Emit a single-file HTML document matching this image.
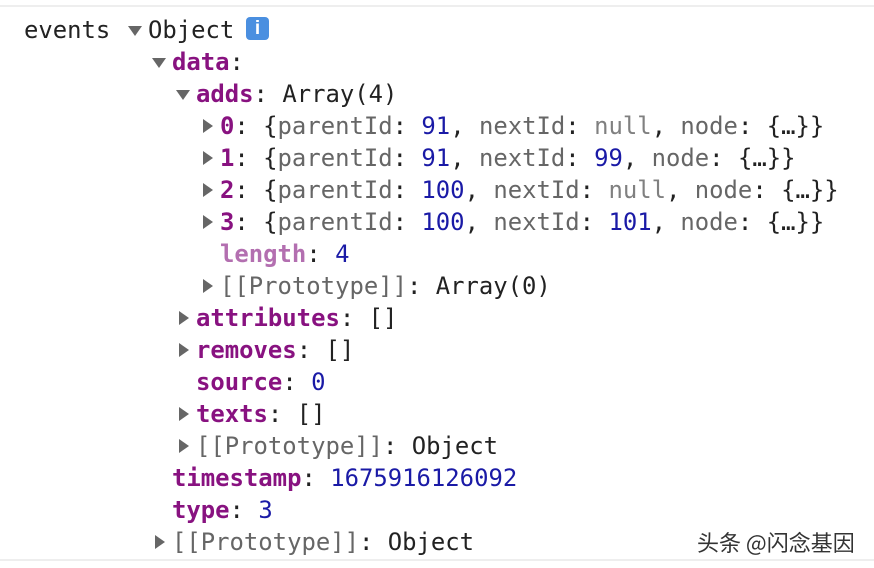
<!DOCTYPE html>
<html><head><meta charset="utf-8"><style>
body{margin:0;width:874px;height:568px;background:#fff;overflow:hidden;position:relative;font-family:"DejaVu Sans Mono","Liberation Mono",monospace;font-size:23.9px;color:#222;}
.r{position:absolute;white-space:pre;line-height:32px;height:32px;}
.k{color:#881280;font-weight:bold}
.kl{color:#b36fb0;font-weight:bold}
.n{color:#1a1aa6}
.g{color:#808080}
.p{color:#666}
.a{position:absolute;width:0;height:0}
.down{border-left:7px solid transparent;border-right:7px solid transparent;border-top:10px solid #666}
.right{border-top:7px solid transparent;border-bottom:7px solid transparent;border-left:10px solid #666}
.line{position:absolute;left:0;width:874px;height:2px;background:#eee}
</style></head><body>
<div class="line" style="top:5px"></div>
<div class="line" style="top:559px"></div>

<div class="r" style="left:24px;top:14px">events</div>
<div class="a down" style="left:128px;top:26px"></div>
<div class="r" style="left:148px;top:14px">Object</div>
<div style="position:absolute;left:246px;top:17px;width:23px;height:23px;background:#4a8fe0;border-radius:4px;color:#fff;font:bold 19px 'Liberation Sans',sans-serif;text-align:center;line-height:23px">i</div>

<div class="a down" style="left:152px;top:58px"></div>
<div class="r" style="left:172px;top:46px"><span class="k">data</span>:</div>

<div class="a down" style="left:176px;top:90px"></div>
<div class="r" style="left:196px;top:78px"><span class="k">adds</span>: Array(4)</div>

<div class="a right" style="left:203px;top:119px"></div>
<div class="r" style="left:220px;top:110px"><span class="k">0</span>: {<span class="p">parentId</span>: <span class="n">91</span>, <span class="p">nextId</span>: <span class="g">null</span>, <span class="p">node</span>: {…}}</div>
<div class="a right" style="left:203px;top:151px"></div>
<div class="r" style="left:220px;top:142px"><span class="k">1</span>: {<span class="p">parentId</span>: <span class="n">91</span>, <span class="p">nextId</span>: <span class="n">99</span>, <span class="p">node</span>: {…}}</div>
<div class="a right" style="left:203px;top:183px"></div>
<div class="r" style="left:220px;top:174px"><span class="k">2</span>: {<span class="p">parentId</span>: <span class="n">100</span>, <span class="p">nextId</span>: <span class="g">null</span>, <span class="p">node</span>: {…}}</div>
<div class="a right" style="left:203px;top:215px"></div>
<div class="r" style="left:220px;top:206px"><span class="k">3</span>: {<span class="p">parentId</span>: <span class="n">100</span>, <span class="p">nextId</span>: <span class="n">101</span>, <span class="p">node</span>: {…}}</div>
<div class="r" style="left:220px;top:238px"><span class="kl">length</span>: <span class="n">4</span></div>
<div class="a right" style="left:203px;top:279px"></div>
<div class="r" style="left:220px;top:270px"><span class="p">[[Prototype]]</span>: Array(0)</div>

<div class="a right" style="left:179px;top:311px"></div>
<div class="r" style="left:196px;top:302px"><span class="k">attributes</span>: []</div>
<div class="a right" style="left:179px;top:343px"></div>
<div class="r" style="left:196px;top:334px"><span class="k">removes</span>: []</div>
<div class="r" style="left:196px;top:366px"><span class="k">source</span>: <span class="n">0</span></div>
<div class="a right" style="left:179px;top:407px"></div>
<div class="r" style="left:196px;top:398px"><span class="k">texts</span>: []</div>
<div class="a right" style="left:179px;top:439px"></div>
<div class="r" style="left:196px;top:430px"><span class="p">[[Prototype]]</span>: Object</div>

<div class="r" style="left:172px;top:462px"><span class="k">timestamp</span>: <span class="n">1675916126092</span></div>
<div class="r" style="left:172px;top:494px"><span class="k">type</span>: <span class="n">3</span></div>
<div class="a right" style="left:155px;top:535px"></div>
<div class="r" style="left:172px;top:526px"><span class="p">[[Prototype]]</span>: Object</div>

<div style="position:absolute;left:697px;top:526px;font:22px 'Noto Sans CJK SC',sans-serif;color:#333;white-space:nowrap">头条 @闪念基因</div>
</body></html>
